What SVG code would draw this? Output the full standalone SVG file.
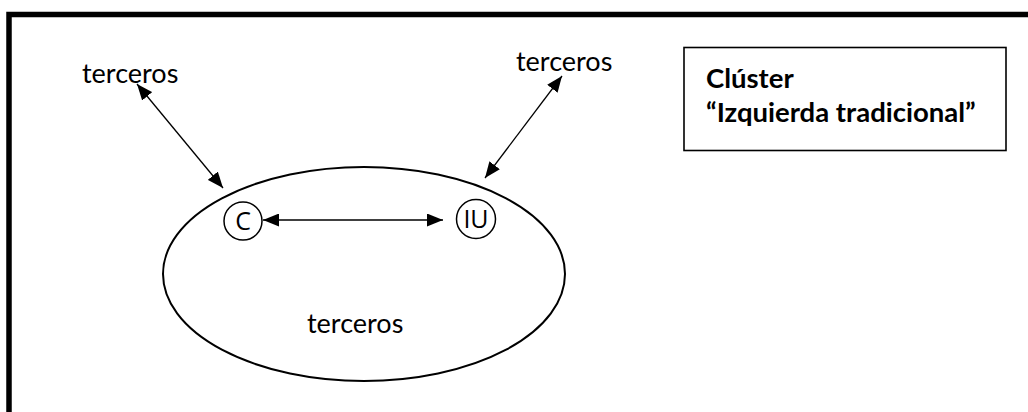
<svg xmlns="http://www.w3.org/2000/svg" width="1028" height="412" viewBox="0 0 1028 412">
<defs>
<marker id="ah" viewBox="0 0 10 10" refX="10" refY="5" markerWidth="16" markerHeight="13" markerUnits="userSpaceOnUse" orient="auto-start-reverse" preserveAspectRatio="none">
<path d="M0,0 L10,5 L0,10 z" fill="#000"/>
</marker>
<style>
.t{font-family:Lato,"Open Sans",sans-serif;font-size:27px;fill:#000}
.b{font-family:Lato,"Open Sans",sans-serif;font-size:27.5px;font-weight:bold;fill:#000}
.s{font-family:"Open Sans",sans-serif;font-size:25px;fill:#000}
.ln{stroke:#000;stroke-width:1.3;fill:none;marker-start:url(#ah);marker-end:url(#ah)}
</style>
</defs>
<rect width="1028" height="412" fill="#fff"/>
<rect id="frame" x="9" y="14.5" width="1040" height="420" fill="none" stroke="#000" stroke-width="5.5"/>
<g id="legend">
<rect x="684" y="47.5" width="322" height="103" fill="#fff" stroke="#000" stroke-width="1.6"/>
<text class="b" x="706" y="88">Clúster</text>
<text class="b" x="706" y="122">“Izquierda tradicional”</text>
</g>
<g id="cluster">
<ellipse cx="364" cy="274" rx="201" ry="107" fill="none" stroke="#000" stroke-width="2"/>
<text class="t" x="307" y="333">terceros</text>
</g>
<g id="terceros-left"><text class="t" x="82" y="83">terceros</text></g>
<g id="terceros-right"><text class="t" x="516" y="71">terceros</text></g>
<g id="node-C">
<circle cx="243" cy="221" r="19" fill="#fff" stroke="#000" stroke-width="1.5"/>
<text class="s" x="243" y="230" text-anchor="middle">C</text>
</g>
<g id="node-IU">
<circle cx="476" cy="219" r="19.5" fill="#fff" stroke="#000" stroke-width="1.5"/>
<text class="s" x="476" y="228" text-anchor="middle">IU</text>
</g>
<g id="connectors">
<line class="ln" x1="137" y1="84" x2="223" y2="188"/>
<line class="ln" x1="562" y1="76" x2="485" y2="178"/>
<line class="ln" x1="263" y1="220" x2="443" y2="220"/>
</g>
</svg>
